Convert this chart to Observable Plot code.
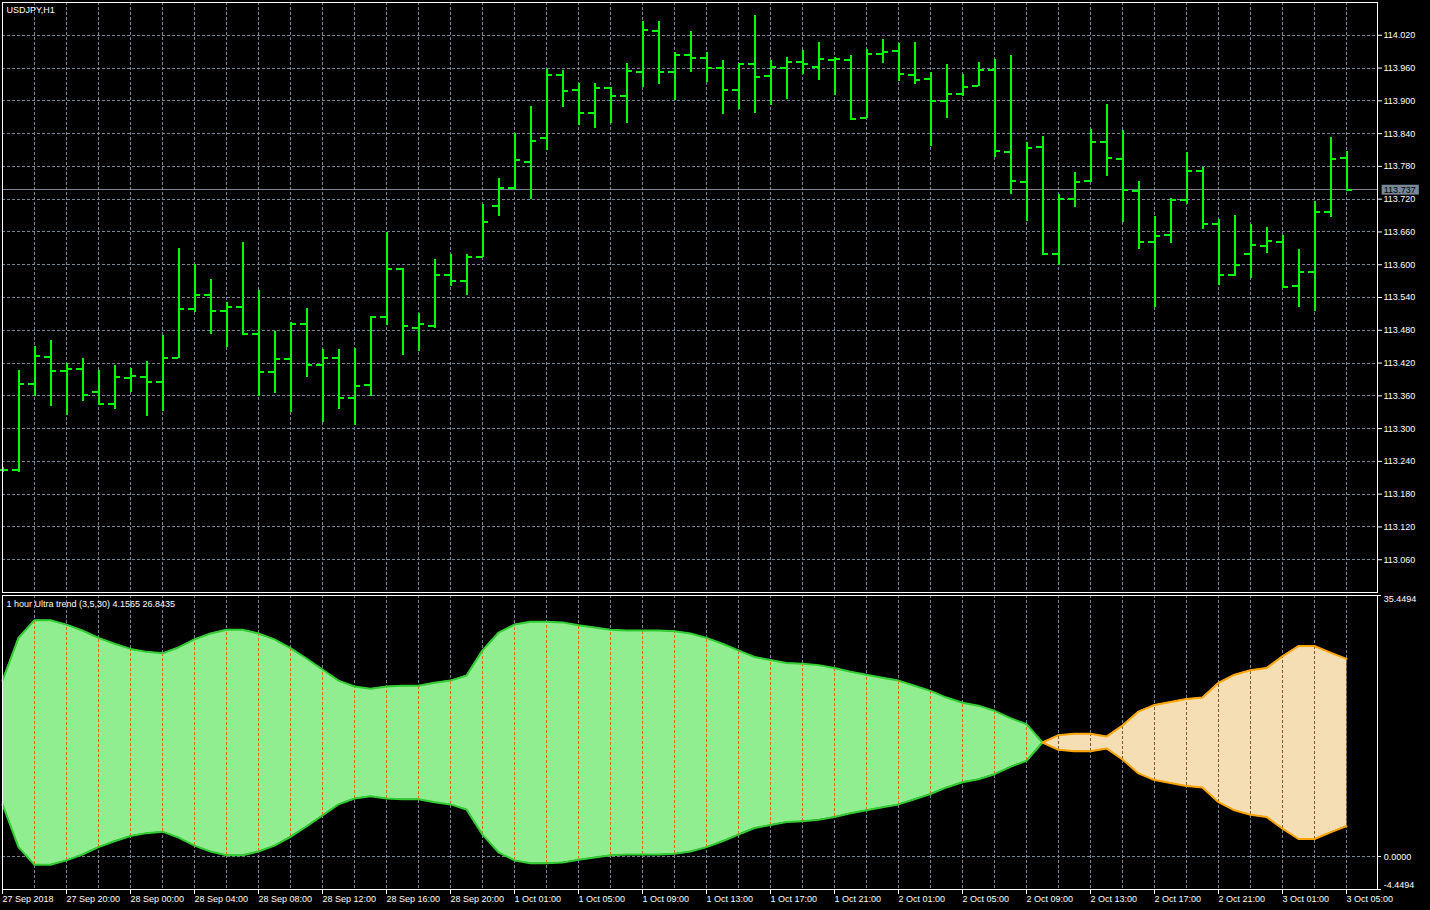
<!DOCTYPE html>
<html><head><meta charset="utf-8">
<script src="https://cdn.jsdelivr.net/npm/d3@7"></script>
<script src="https://cdn.jsdelivr.net/npm/@observablehq/plot@0.6"></script>
<style>
html,body{margin:0;padding:0;background:#000;width:1430px;height:910px;overflow:hidden}
#main{position:absolute;left:0;top:0}
#ind{position:absolute;left:0;top:593px}
</style></head><body>
<div id="main"></div><div id="ind"></div>
<script>
const symbol = "USDJPY,H1";
const indicatorTitle = "1 hour Ultra trend (3,5,30) 4.1565 26.8435";

// hourly OHLC, bar 0 = 27 Sep 2018 16:00 ... bar 84 = 3 Oct 05:00
const open = [113.224,113.224,113.381,113.432,113.406,113.409,113.367,113.345,113.393,113.395,
113.386,113.430,113.519,113.545,113.516,113.522,113.474,113.404,113.427,113.491,
113.417,113.430,113.356,113.379,113.504,113.592,113.485,113.488,113.582,113.571,
113.614,113.707,113.740,113.788,113.832,113.947,113.919,113.877,113.923,113.909,
113.953,114.028,113.953,113.983,113.979,113.961,113.919,113.968,113.946,113.961,
113.971,113.962,113.975,113.975,113.868,113.985,113.991,113.948,113.940,113.900,
113.912,113.928,113.956,113.806,113.752,113.816,113.620,113.721,113.754,113.825,
113.794,113.735,113.641,113.654,113.718,113.772,113.675,113.581,113.620,113.635,
113.641,113.561,113.587,113.696,113.796];
const high = [113.228,113.407,113.451,113.462,113.419,113.429,113.407,113.416,113.410,113.422,
113.470,113.630,113.601,113.573,113.531,113.641,113.553,113.477,113.495,113.519,
113.444,113.444,113.446,113.506,113.659,113.593,113.511,113.609,113.619,113.619,
113.711,113.757,113.840,113.890,113.958,113.956,113.932,113.932,113.925,113.968,
114.046,114.046,113.988,114.027,113.988,113.973,113.968,114.056,113.973,113.979,
113.993,114.006,113.979,113.983,113.994,114.012,114.005,114.007,113.951,113.967,
113.949,113.971,113.976,113.983,113.824,113.835,113.729,113.769,113.848,113.893,
113.845,113.752,113.689,113.722,113.806,113.778,113.682,113.690,113.673,113.669,
113.654,113.627,113.716,113.833,113.808];
const low = [113.220,113.219,113.358,113.341,113.324,113.350,113.343,113.335,113.367,113.323,
113.331,113.429,113.512,113.473,113.449,113.473,113.358,113.364,113.330,113.394,
113.311,113.335,113.305,113.358,113.488,113.433,113.441,113.484,113.561,113.544,
113.613,113.689,113.736,113.720,113.809,113.887,113.854,113.849,113.858,113.858,
113.924,113.929,113.900,113.951,113.933,113.875,113.884,113.877,113.891,113.902,
113.949,113.938,113.909,113.866,113.868,113.969,113.935,113.930,113.816,113.867,
113.908,113.926,113.796,113.729,113.680,113.616,113.598,113.705,113.750,113.761,
113.678,113.627,113.522,113.639,113.711,113.664,113.562,113.578,113.574,113.620,
113.559,113.522,113.514,113.687,113.737];
const close = [113.224,113.381,113.433,113.406,113.409,113.362,113.345,113.395,113.396,113.386,
113.430,113.519,113.545,113.516,113.522,113.474,113.404,113.427,113.491,113.417,
113.430,113.356,113.378,113.504,113.593,113.487,113.491,113.582,113.571,113.614,
113.678,113.740,113.791,113.826,113.947,113.918,113.877,113.923,113.909,113.954,
114.029,113.953,113.983,113.979,113.961,113.919,113.967,113.944,113.962,113.971,
113.968,113.977,113.977,113.867,113.986,113.989,113.949,113.939,113.900,113.912,
113.926,113.956,113.808,113.754,113.814,113.620,113.721,113.751,113.825,113.796,
113.737,113.641,113.653,113.718,113.772,113.674,113.582,113.599,113.637,113.644,
113.560,113.587,113.697,113.794,113.737];

// indicator bands
const upperBand = [23.9,29.7,32.1,32.1,31.5,30.7,29.7,28.9,28.2,27.8,
27.6,28.4,29.5,30.3,30.8,30.8,30.3,29.5,28.3,26.9,
25.4,23.9,23.1,22.8,23.1,23.2,23.2,23.6,23.9,24.6,
28.0,30.4,31.5,31.9,31.9,31.8,31.4,31.1,30.8,30.7,
30.7,30.7,30.6,30.3,29.7,28.9,28.0,27.1,26.7,26.3,
26.2,26.0,25.6,25.1,24.7,24.3,23.9,23.2,22.5,21.6,
20.9,20.5,19.8,18.8,18.0,15.5,16.5,16.7,16.7,16.3,
17.8,19.7,20.6,21.0,21.4,21.6,23.6,24.7,25.3,25.6,
27.2,28.6,28.6,27.7,26.84];
const lowerBand = [7.1,1.3,-1.1,-1.1,-0.5,0.3,1.3,2.1,2.8,3.2,
3.4,2.6,1.5,0.7,0.2,0.2,0.7,1.5,2.7,4.1,
5.6,7.1,7.9,8.2,7.9,7.8,7.8,7.4,7.1,6.4,
3.0,0.6,-0.5,-0.9,-0.9,-0.8,-0.4,-0.1,0.2,0.3,
0.3,0.3,0.4,0.7,1.3,2.1,3.0,3.9,4.3,4.7,
4.8,5.0,5.4,5.9,6.3,6.7,7.1,7.8,8.5,9.4,
10.1,10.5,11.2,12.2,13.0,15.5,14.5,14.3,14.3,14.7,
13.2,11.3,10.4,10.0,9.6,9.4,7.4,6.3,5.7,5.4,
3.8,2.4,2.4,3.3,4.16];
// trend state per bar: 66 up bars, then 19 down bars
const trend = "UUUUUUUUUU" + "UUUUUUUUUU" + "UUUUUUUUUU" + "UUUUUUUUUU" + "UUUUUUUUUU" + "UUUUUUUUUU" + "UUUUUU"
            + "DDDDDDDDDD" + "DDDDDDDDD";

const priceTicks = [113.060,113.120,113.180,113.240,113.300,113.360,113.420,113.480,113.540,
113.600,113.660,113.720,113.780,113.840,113.900,113.960,114.020];
const indTicks = [35.4494, 0, -4.4494];
const labelBars = [0,4,8,12,16,20,24,28,32,36,40,44,48,52,56,60,64,68,72,76,80,84];
const timeLabels = ["27 Sep 2018","27 Sep 20:00","28 Sep 00:00","28 Sep 04:00","28 Sep 08:00",
"28 Sep 12:00","28 Sep 16:00","28 Sep 20:00","1 Oct 01:00","1 Oct 05:00","1 Oct 09:00",
"1 Oct 13:00","1 Oct 17:00","1 Oct 21:00","2 Oct 01:00","2 Oct 05:00","2 Oct 09:00",
"2 Oct 13:00","2 Oct 17:00","2 Oct 21:00","3 Oct 01:00","3 Oct 05:00"];

const bars = open.map((o, i) => ({i, open: o, high: high[i], low: low[i], close: close[i]}));
const band = upperBand.map((u, i) => ({i, upper: u, lower: lowerBand[i], t: trend[i]}));
const firstDown = band.findIndex(d => d.t === "D");
const greenRows = band.filter(d => d.i < firstDown);
const orangeRows = band.filter(d => d.i >= firstDown - 1);
const gridBars = d3.range(0, 85, 2);
const lastPrice = close[close.length - 1];

const GRID = "#778899", DASH = "3,2", CRISP = "crispEdges";
const XDOM = [0, 85.9375];
const style = {background: "#000", color: "#fff", fontFamily: "'Liberation Sans', Arial, sans-serif", fontSize: "9px", overflow: "visible"};

const main = Plot.plot({
  width: 1430, height: 594, marginTop: 2, marginBottom: 2, marginLeft: 2, marginRight: 53,
  x: {domain: XDOM, axis: null},
  y: {domain: [113.000, 114.080]},
  style,
  marks: [
    Plot.ruleX(gridBars, {stroke: GRID, strokeDasharray: DASH, shapeRendering: CRISP}),
    Plot.ruleY(priceTicks, {stroke: GRID, strokeDasharray: DASH, shapeRendering: CRISP}),
    Plot.ruleY([lastPrice], {stroke: GRID, shapeRendering: CRISP}),
    Plot.ruleX(bars, {x: "i", y1: "low", y2: "high", stroke: "#00ff00", strokeWidth: 2, shapeRendering: CRISP}),
    Plot.ruleY(bars, {y: "open", x1: d => d.i - 0.375, x2: d => d.i, stroke: "#00ff00", strokeWidth: 2, shapeRendering: CRISP}),
    Plot.ruleY(bars, {y: "close", x1: d => d.i, x2: d => d.i + 0.375, stroke: "#00ff00", strokeWidth: 2, shapeRendering: CRISP}),
    Plot.frame({stroke: "#fff", shapeRendering: CRISP}),
    Plot.axisY({ticks: priceTicks, anchor: "right", tickSize: 4, tickPadding: 2, tickFormat: d3.format(".3f"), color: "#fff", label: null}),
    Plot.rect([lastPrice], {x1: () => 86.23, x2: () => 88.55, y1: d => d - 0.0095, y2: d => d + 0.0085, fill: GRID}),
    Plot.text([lastPrice], {x: () => 86.33, y: d => d, text: d => d.toFixed(3), fill: "#000", textAnchor: "start"}),
    Plot.text([symbol], {frameAnchor: "top-left", dx: 4, dy: 4, fill: "#fff", textAnchor: "start"})
  ]
});
document.getElementById("main").append(main);

const ind = Plot.plot({
  width: 1430, height: 317, marginTop: 2, marginBottom: 21, marginLeft: 2, marginRight: 53,
  x: {domain: XDOM},
  y: {domain: [-4.4494, 35.4494], axis: null},
  style,
  marks: [
    Plot.ruleX(gridBars, {stroke: GRID, strokeDasharray: DASH, shapeRendering: CRISP}),
    Plot.ruleY([0], {stroke: GRID, strokeDasharray: DASH, shapeRendering: CRISP}),
    Plot.areaY(greenRows, {x: "i", y1: "lower", y2: "upper", fill: "#90ee90"}),
    Plot.areaY(orangeRows, {x: "i", y1: "lower", y2: "upper", fill: "#f5deb3"}),
    Plot.ruleX(greenRows.filter(d => d.i % 2 === 0 && d.i > 0), {x: "i", y1: "lower", y2: "upper", stroke: "#e76609", strokeDasharray: DASH, shapeRendering: CRISP}),
    Plot.ruleX(orangeRows.filter(d => d.i % 2 === 0 && d.i >= firstDown), {x: "i", y1: "lower", y2: "upper", stroke: "#82562a", strokeDasharray: DASH, shapeRendering: CRISP}),
    Plot.line(greenRows, {x: "i", y: "upper", stroke: "#32cd32", strokeWidth: 2}),
    Plot.line(greenRows, {x: "i", y: "lower", stroke: "#32cd32", strokeWidth: 2}),
    Plot.line(orangeRows, {x: "i", y: "upper", stroke: "#ffa500", strokeWidth: 2}),
    Plot.line(orangeRows, {x: "i", y: "lower", stroke: "#ffa500", strokeWidth: 2}),
    Plot.frame({stroke: "#fff", shapeRendering: CRISP}),
    Plot.axisX({ticks: labelBars, tickFormat: d => timeLabels[labelBars.indexOf(d)], anchor: "bottom", tickSize: 5, tickPadding: 1, textAnchor: "start", color: "#fff", label: null}),
    Plot.ruleY(indTicks, {y: d => d, x1: () => XDOM[1], x2: () => 86.19, stroke: "#fff", shapeRendering: CRISP}),
    Plot.text([indTicks[0]], {x: () => 86.33, y: d => d, text: d => d.toFixed(4), dy: 4, fill: "#fff", textAnchor: "start"}),
    Plot.text([indTicks[1]], {x: () => 86.33, y: d => d, text: d => d.toFixed(4), fill: "#fff", textAnchor: "start"}),
    Plot.text([indTicks[2]], {x: () => 86.33, y: d => d, text: d => d.toFixed(4), dy: -4, fill: "#fff", textAnchor: "start"}),
    Plot.text([indicatorTitle], {frameAnchor: "top-left", dx: 4, dy: 5, fill: "#fff", textAnchor: "start"})
  ]
});
document.getElementById("ind").append(ind);
</script>
</body></html>
